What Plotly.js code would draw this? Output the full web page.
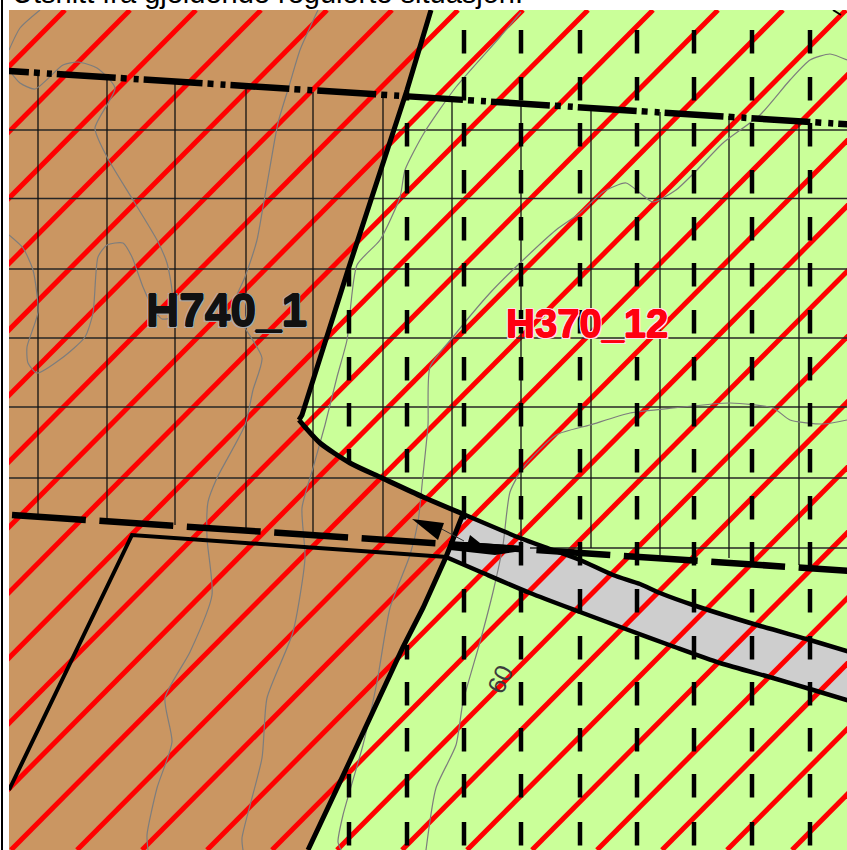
<!DOCTYPE html>
<html>
<head>
<meta charset="utf-8">
<script src="https://cdn.plot.ly/plotly-3.0.1.min.js"></script>
<style>html,body{margin:0;padding:0;background:#fff;overflow:hidden}</style>
</head>
<body>
<div id="map" style="width:847px;height:850px"></div>
<script>
const titleText = "Utsnitt fra gjeldende regulerte situasjon.";
const labelBrown = "H740_1";
const labelRed = "H370_12";
const labelContour = "60";

const brownX = [9,431,407,348,302,299,305,320,350,382,423,463,446,423,403,348,308,9];
const brownY = [10,10,90,270,415,420,427,443,463,478,497,514,557,608,647,765,850,850];

const bandUpperX = [463,520,550,580,613,640,660,693,757,810,850];
const bandUpperY = [514,538,549,560,575,584,593,605,625,640,652];
const bandLowerX = [446,483,530,580,623,672,720,773,810,850];
const bandLowerY = [557,573,593,612,628,646,663,678,689,701];

const hatchTopX = [65,130,196,261,327,392,458,523,588,653,718,783,846,912,977,1042,1107,1172,1237,1302,1367,1432,1497,1562,1627,1692];

const gridRows = [130,198.5,269,338,407,478];
const gridRowLastX = 530;
const gridRowLastY = 548;
const gridColsX = [38,107,175,246,313,383,452,521,591,660,729,799];
const gridColsTop = [73,78,84,89,92,97,101,106,110,112,116,123];
const gridColsBottom = [516,520,525,528,533,537,543,548,548,555,558,565];

const dashColsX = [349,407,464,521,580,637,694,752,810];
const dashVisible = [
  [[270,463],[770,850]],
  [[90,488],[645,850]],
  [[30,850]],[[30,850]],[[30,850]],[[30,850]],[[30,850]],[[30,850]],[[30,850]]
];
const dashStartsY = [30,77,123,170,217,263,310,357,403,449,496,542,589,636,682,728,774,822];
const dashLength = 23.5;

const dashDotX = [-30,850];
const dashDotY = [68.5,124.5];
const longDashX = [12,850];
const longDashY = [515,571];

const plotLineX = [9,132,447];
const plotLineY = [790,535,557];

const wedgeLeftX = [412,444,438];
const wedgeLeftY = [519,523,540];
const wedgeRightX = [450,468,470,480,522,522,495,450];
const wedgeRightY = [542,542,535,543,546,551,555,550];
const wedgeWireX = [438,452,464];
const wedgeWireY = [527,535,541];
const cornerMarkX = [833,841];
const cornerMarkY = [10,15];

const contourA1X = [40,20,9];
const contourA1Y = [10,28,50];
const contourA2X = [9,20,35,63,78,97,115,95,107,133,157,167,172,172,162,153,143,132,123,107,98,93,85,62,37,28,27,38,33,23,9];
const contourA2Y = [70,83,89,65,62,68,88,128,157,200,240,263,290,317,319,308,287,257,243,245,257,313,337,358,373,363,347,312,270,248,235];
const contourBX = [318,300,290,278,270,263,257,245,233,245,262,253,245,217,208,207,212,190,165,172,157,147,148];
const contourBY = [10,50,83,123,167,207,240,277,307,328,358,390,425,478,502,538,595,652,698,742,788,835,850];
const contourCX = [521,500,456,424,405,400,380,357,347,337,325,313,302,305,293,267,262,242,243];
const contourCY = [12,37,87,133,170,197,240,265,340,377,425,468,508,558,632,698,758,838,850];
const contourDX = [847,830,810,790,760,723,695,676,653,640,626,603,580,556,520,490,453,430,428,423,418,410,390,377,363,343,338,341];
const contourDY = [60,54,60,80,115,143,172,190,202,193,183,192,213,230,263,293,337,367,425,475,522,555,608,682,745,815,842,850];
const contourEX = [847,823,790,773,730,673,630,590,556,523,510,503,493,480,463,456,436,426];
const contourEY = [420,424,420,408,403,408,413,425,435,468,492,545,592,642,702,745,788,850];

const cBrown = "#ca9662", cGreen = "#caff99", cGrey = "#cecece", cRed = "#ff0000", cBlack = "#000000";

function line(x, y, color, width, extra) {
  return Object.assign({type:"scatter", mode:"lines", x:x, y:y, hoverinfo:"skip", showlegend:false,
    line:Object.assign({color:color, width:width}, extra || {})});
}
function fill(x, y, color) {
  return {type:"scatter", mode:"lines", x:x, y:y, fill:"toself", fillcolor:color, hoverinfo:"skip",
    showlegend:false, line:{width:0, color:color}};
}
const curved = {shape:"spline", smoothing:0.7};

const traces = [];
traces.push(fill(brownX, brownY, cBrown));
traces.push(fill(bandUpperX.concat(bandLowerX.slice().reverse()), bandUpperY.concat(bandLowerY.slice().reverse()), cGrey));

// red hatch
const hx = [], hy = [];
hatchTopX.forEach(function(t){ hx.push(t, t - 835, null); hy.push(10, 850, null); });
traces.push(line(hx, hy, cRed, 5));

// grid
const grx = [], gry = [], gcx = [], gcy = [];
gridRows.forEach(function(r){ grx.push(9, 847, null); gry.push(r, r, null); });
grx.push(gridRowLastX, 847, null); gry.push(gridRowLastY, gridRowLastY, null);
gridColsX.forEach(function(c, i){ gcx.push(c, c, null); gcy.push(gridColsTop[i], gridColsBottom[i], null); });
traces.push(line(grx, gry, "#262626", 1.5));
traces.push(line(gcx, gcy, "#111111", 1.3));

// contours
[[contourA1X,contourA1Y],[contourA2X,contourA2Y],[contourBX,contourBY],[contourCX,contourCY],[contourDX,contourDY],[contourEX,contourEY]]
  .forEach(function(c){ traces.push(line(c[0], c[1], "#7d7d7d", 1.2, {shape:"spline", smoothing:0.6})); });

// vertical dashes of the hazard zone
const dx = [], dy = [];
dashColsX.forEach(function(c, i){
  dashVisible[i].forEach(function(range){
    dashStartsY.forEach(function(s){
      const a = Math.max(s, range[0]), b = Math.min(s + dashLength, range[1]);
      if (b > a) { dx.push(c, c, null); dy.push(a, b, null); }
    });
  });
});
traces.push(line(dx, dy, cBlack, 4.5));

// boundary lines
traces.push(line(dashDotX, dashDotY, cBlack, 6.5, {dash:"59px,5px,6px,7px,5px,5px"}));
traces.push(line(longDashX, longDashY, cBlack, 6.5, {dash:"74px,13.6px"}));
traces.push(line(brownX.slice(1,6), brownY.slice(1,6), cBlack, 5));
traces.push(line(brownX.slice(5,12), brownY.slice(5,12), cBlack, 5, curved));
traces.push(line(brownX.slice(11,17), brownY.slice(11,17), cBlack, 5));
traces.push(line(bandLowerX, bandLowerY, cBlack, 4.5, curved));
traces.push(line(bandUpperX, bandUpperY, cBlack, 4.5, curved));
traces.push(line(plotLineX, plotLineY, cBlack, 4));
traces.push(line(wedgeWireX, wedgeWireY, "#333333", 1));
traces.push(fill(wedgeLeftX, wedgeLeftY, cBlack));
traces.push(fill(wedgeRightX, wedgeRightY, cBlack));
traces.push(line(cornerMarkX, cornerMarkY, cBlack, 2));

const layout = {
  width:847, height:850,
  margin:{l:9, r:0, t:10, b:0, pad:0},
  paper_bgcolor:"#ffffff", plot_bgcolor:cGreen,
  showlegend:false,
  title:{text:titleText, x:12/847, xref:"container", xanchor:"left", y:1-3/850, yref:"container", yanchor:"bottom",
    font:{family:"Liberation Sans", size:29, color:"#000000"}, pad:{l:0,r:0,t:0,b:0}},
  xaxis:{range:[9,847], visible:false, fixedrange:true},
  yaxis:{range:[850,10], visible:false, fixedrange:true},
  shapes:[{type:"rect", xref:"paper", yref:"paper", x0:(1-9)/838, x1:(3-9)/838, y0:0, y1:850/840, fillcolor:cBlack, line:{width:0}, layer:"above"}],
  annotations:[
    {xref:"x", yref:"y", x:226, y:310, text:labelBrown, showarrow:false, xanchor:"center", yanchor:"middle",
     font:{family:"Liberation Sans", size:46, color:"#111111", weight:700,
       shadow:"0.6px 0 0 #111, -0.6px 0 0 #111, 0 0.6px 0 #111, 0 -0.6px 0 #111, -1.5px -1.5px 0 #aaa, 1.5px -1.5px 0 #aaa, -1.5px 1.5px 0 #aaa, 1.5px 1.5px 0 #aaa"}},
    {xref:"x", yref:"y", x:587, y:323, text:labelRed, showarrow:false, xanchor:"center", yanchor:"middle",
     font:{family:"Liberation Sans", size:40, color:"#ff0010", weight:700,
       shadow:"0.5px 0 0 #ff0010, -0.5px 0 0 #ff0010, 0 0.5px 0 #ff0010, 0 -0.5px 0 #ff0010, -1.5px -1.5px 0 #fde, 1.5px -1.5px 0 #fde, -1.5px 1.5px 0 #fde, 1.5px 1.5px 0 #fde"}},
    {xref:"x", yref:"y", x:500, y:679, text:labelContour, showarrow:false, textangle:-65, xanchor:"center", yanchor:"middle",
     font:{family:"Liberation Sans", size:25, color:"#3c3c3c"}}
  ]
};
Plotly.newPlot("map", traces, layout, {displayModeBar:false, staticPlot:true});
</script>
</body>
</html>
